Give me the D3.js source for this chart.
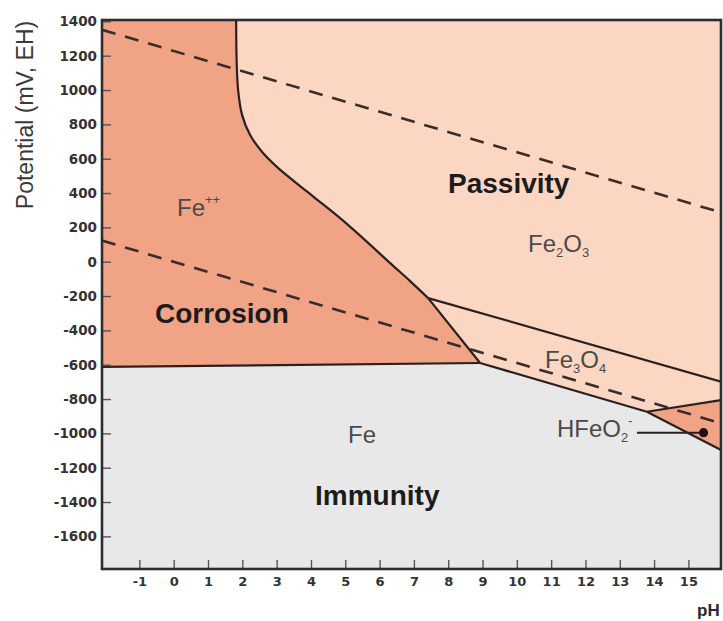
<!DOCTYPE html>
<html>
<head>
<meta charset="utf-8">
<script src="https://cdn.jsdelivr.net/npm/d3@7"></script>
<style>
  body { margin: 0; background: #fff; }
  svg { display: block; }
</style>
</head>
<body>
<svg id="chart" width="723" height="621"></svg>
<script>
// ---- Data: Pourbaix (E–pH) diagram for iron in water ----
const phTicks = [-1, 0, 1, 2, 3, 4, 5, 6, 7, 8, 9, 10, 11, 12, 13, 14, 15];
const potentialTicks = [1400, 1200, 1000, 800, 600, 400, 200, 0, -200, -400, -600, -800, -1000, -1200, -1400, -1600];
const phExtent = [-2.09, 15.95];
const potentialExtent = [-1790, 1408];

// Fe++ / Fe2O3 boundary, from the top edge down to the Fe++ / Fe2O3 / Fe3O4 point
const ferrousHematite = [[1.816, 1440], [1.819, 1400], [1.833, 1175], [1.877, 1000], [1.994, 854],
  [2.227, 738], [2.577, 639], [3.014, 551], [3.538, 464], [4.121, 371], [4.850, 254],
  [5.578, 126], [6.307, -8], [6.890, -113], [7.415, -212]];
// Fe++ / Fe3O4 boundary
const ferrousMagnetite = [[7.415, -212], [8.93, -590]];
// Fe / Fe++ boundary
const ironFerrous = [[-2.09, -613], [8.93, -590]];
// Fe3O4 / Fe2O3 boundary
const magnetiteHematite = [[7.415, -212], [15.95, -699]];
// Fe / Fe3O4 boundary
const ironMagnetite = [[8.93, -590], [13.79, -874]];
// Fe / HFeO2- boundary
const ironBiferrite = [[13.79, -874], [15.95, -1097]];
// Fe3O4 / HFeO2- boundary
const magnetiteBiferrite = [[13.79, -874], [15.95, -806]];
// Water stability lines (O2 / H2O and H2O / H2)
const oxygenLine = [[-2.09, 1351], [15.95, 287]];
const hydrogenLine = [[-2.09, 123], [15.95, -941]];
// HFeO2- marker and its leader
const biferriteMarker = [15.44, -996];
const biferriteLeaderStart = 13.5;

const colors = {
  immunity: "#e8e8e8",
  passivity: "#fbd6c3",
  corrosion: "#f1a385",
  line: "#2b2020",
  dash: "#3a2c2a",
  axis: "#2e2e2e"
};

// ---- Layout ----
const frame = { left: 102, right: 721, top: 20, bottom: 569 };
const svg = d3.select("#chart");

const x = d3.scaleLinear().domain(phExtent).range([frame.left, frame.right]);
const y = d3.scaleLinear().domain(potentialExtent).range([frame.bottom, frame.top]);

svg.append("defs").append("clipPath").attr("id", "plot-clip")
  .append("rect")
  .attr("x", frame.left).attr("y", frame.top)
  .attr("width", frame.right - frame.left).attr("height", frame.bottom - frame.top);

const plot = svg.append("g").attr("clip-path", "url(#plot-clip)");

const straight = d3.line().x(d => x(d[0])).y(d => y(d[1]));
const smooth = d3.line().x(d => x(d[0])).y(d => y(d[1])).curve(d3.curveCatmullRom.alpha(0.5));

const [xMin, xMax] = phExtent;
const [yMin, yMax] = potentialExtent;

// Immunity (Fe) – the background
plot.append("rect")
  .attr("x", frame.left).attr("y", frame.top)
  .attr("width", frame.right - frame.left).attr("height", frame.bottom - frame.top)
  .attr("fill", colors.immunity);

// Everything above the Fe stability boundary: Fe2O3 and Fe3O4 (passivity)
const aboveIron = [[xMin, yMax + 30], [xMax, yMax + 30], magnetiteBiferrite[1], ironMagnetite[1],
  ironMagnetite[0], ironFerrous[0]];
plot.append("path")
  .attr("d", straight(aboveIron) + "Z")
  .attr("fill", colors.passivity);

// Fe++ (corrosion) region
const ferrousEdge = smooth(ferrousHematite);
const ferrousRest = [ferrousMagnetite[1], ironFerrous[0], [xMin, yMax + 30]]
  .map(d => `L${x(d[0])},${y(d[1])}`).join("");
plot.append("path")
  .attr("d", ferrousEdge + ferrousRest + "Z")
  .attr("fill", colors.corrosion);

// HFeO2- (corrosion) region
plot.append("path")
  .attr("d", straight([ironBiferrite[0], magnetiteBiferrite[1], ironBiferrite[1]]) + "Z")
  .attr("fill", colors.corrosion);

// Water stability lines
[oxygenLine, hydrogenLine].forEach(seg => {
  plot.append("path")
    .attr("d", straight(seg))
    .attr("fill", "none")
    .attr("stroke", colors.dash)
    .attr("stroke-width", 2.6)
    .attr("stroke-dasharray", "14,10");
});

// Phase boundaries
plot.append("path")
  .attr("d", ferrousEdge)
  .attr("fill", "none").attr("stroke", colors.line).attr("stroke-width", 2.2);
[ferrousMagnetite, ironFerrous, magnetiteHematite, ironMagnetite, ironBiferrite, magnetiteBiferrite]
  .forEach(seg => {
    plot.append("path")
      .attr("d", straight(seg))
      .attr("fill", "none")
      .attr("stroke", colors.line)
      .attr("stroke-width", 2.2)
      .attr("stroke-linejoin", "round");
  });

// HFeO2- leader and marker
plot.append("line")
  .attr("x1", x(biferriteLeaderStart)).attr("x2", x(biferriteMarker[0]))
  .attr("y1", y(biferriteMarker[1])).attr("y2", y(biferriteMarker[1]))
  .attr("stroke", colors.line).attr("stroke-width", 2);
plot.append("circle")
  .attr("cx", x(biferriteMarker[0])).attr("cy", y(biferriteMarker[1]))
  .attr("r", 4.6).attr("fill", "#1e1414");

// ---- Axes ----
const tickFont = "'DejaVu Sans', sans-serif";

const yAxis = d3.axisLeft(y).tickValues(potentialTicks).tickSize(-9).tickPadding(5);
const gy = svg.append("g").attr("transform", `translate(${frame.left},0)`).call(yAxis);
gy.select(".domain").remove();
gy.selectAll(".tick line").attr("stroke", "#555").attr("stroke-width", 1.4);
gy.selectAll(".tick text")
  .attr("font-family", tickFont).attr("font-weight", "bold").attr("font-size", 13.5)
  .attr("fill", "#333")
  .text(d => String(d));

const xAxis = d3.axisBottom(x).tickValues(phTicks).tickSize(-9).tickPadding(8);
const gx = svg.append("g").attr("transform", `translate(0,${frame.bottom})`).call(xAxis);
gx.select(".domain").remove();
gx.selectAll(".tick line").attr("stroke", "#555").attr("stroke-width", 1.4);
gx.selectAll(".tick text")
  .attr("font-family", tickFont).attr("font-weight", "bold").attr("font-size", 13)
  .attr("fill", "#333")
  .text(d => String(d));

// Plot frame
svg.append("rect")
  .attr("x", frame.left).attr("y", frame.top)
  .attr("width", frame.right - frame.left).attr("height", frame.bottom - frame.top)
  .attr("fill", "none").attr("stroke", colors.axis).attr("stroke-width", 2.6);

// Axis titles
svg.append("text")
  .attr("transform", "translate(33,115) rotate(-90)")
  .attr("text-anchor", "middle")
  .attr("font-family", "'Liberation Sans', Arial, sans-serif")
  .attr("font-size", 23)
  .attr("fill", "#3a3a3a")
  .text("Potential (mV, EH)");

svg.append("text")
  .attr("x", 697).attr("y", 616)
  .attr("font-family", "'Liberation Sans', Arial, sans-serif")
  .attr("font-weight", "bold").attr("font-size", 17)
  .attr("fill", "#2a2a2a")
  .text("pH");

// ---- Region labels ----
const labelFont = "'Liberation Sans', Arial, sans-serif";

function regionTitle(text, px, py) {
  svg.append("text")
    .attr("x", px).attr("y", py)
    .attr("font-family", labelFont).attr("font-weight", "bold").attr("font-size", 28)
    .attr("fill", "#1c1c1c")
    .text(text);
}
regionTitle("Corrosion", 155, 323);
regionTitle("Passivity", 448, 193);
regionTitle("Immunity", 315, 505);

// species label built from [text, kind] parts: kind = "n" normal, "sub", "sup"
function species(parts, px, py) {
  const t = svg.append("text")
    .attr("x", px).attr("y", py)
    .attr("font-family", labelFont).attr("font-size", 24)
    .attr("fill", "#4a4a4a");
  let shift = 0;
  parts.forEach(([s, kind]) => {
    const target = kind === "sub" ? 5 : kind === "sup" ? -12 : 0;
    t.append("tspan")
      .attr("dy", target - shift)
      .attr("font-size", kind === "n" ? 24 : 13)
      .text(s);
    shift = target;
  });
}
species([["Fe", "n"], ["++", "sup"]], 177, 216);
species([["Fe", "n"], ["2", "sub"], ["O", "n"], ["3", "sub"]], 528, 252);
species([["Fe", "n"], ["3", "sub"], ["O", "n"], ["4", "sub"]], 545, 368);
species([["Fe", "n"]], 348, 443);
species([["HFeO", "n"], ["2", "sub"], ["-", "sup"]], 557, 437);
</script>
</body>
</html>
